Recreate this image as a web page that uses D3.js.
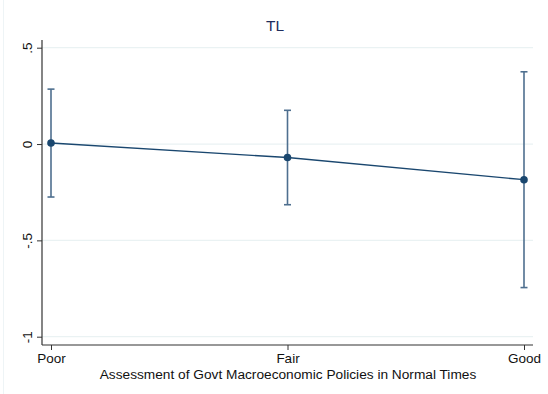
<!DOCTYPE html>
<html>
<head>
<meta charset="utf-8">
<script src="https://cdn.jsdelivr.net/npm/d3@7"></script>
<style>
  body { margin: 0; background: #fff; }
  text { font-family: "Liberation Sans", Arial, sans-serif; }
</style>
</head>
<body>
<div id="chart"></div>
<script>
// chart values
var categories = ["Poor", "Fair", "Good"];
var estimates = [0.005, -0.07, -0.185];
var ciLow = [-0.275, -0.315, -0.745];
var ciHigh = [0.285, 0.175, 0.375];
var yTicks = [-1, -0.5, 0, 0.5];
var yTickLabels = ["-1", "-.5", "0", ".5"];

var W = 548, H = 394;
var svg = d3.select("#chart").append("svg")
    .attr("width", W)
    .attr("height", H);

svg.append("rect").attr("width", W).attr("height", H).attr("fill", "#fff");
// faint outer border on the left
svg.append("line")
    .attr("x1", 3.5).attr("x2", 3.5).attr("y1", 0).attr("y2", H)
    .attr("stroke", "#eef4f6").attr("stroke-width", 1);

var xScale = d3.scalePoint().domain(categories).range([51, 524]);
var yScale = d3.scaleLinear().domain([-1, 0.5]).range([336.7, 47.7]);

var plotLeft = 42, plotRight = 533, plotBottom = 345, plotTop = 40;

// gridlines
svg.append("g").selectAll("line")
    .data(yTicks)
    .enter().append("line")
    .attr("x1", plotLeft).attr("x2", plotRight)
    .attr("y1", function (d) { return yScale(d); })
    .attr("y2", function (d) { return yScale(d); })
    .attr("stroke", "#eaf2f3").attr("stroke-width", 1.2);

// y axis
var yAxis = d3.axisLeft(yScale)
    .tickValues(yTicks)
    .tickSize(5)
    .tickFormat(function (d, i) { return yTickLabels[i]; });
var gy = svg.append("g")
    .attr("transform", "translate(" + plotLeft + ",0)")
    .call(yAxis);
gy.select(".domain").remove();
gy.append("line")
    .attr("x1", 0).attr("x2", 0).attr("y1", plotTop).attr("y2", plotBottom)
    .attr("stroke", "#333").attr("stroke-width", 1.2);
gy.selectAll(".tick line").attr("stroke", "#333");
gy.selectAll(".tick text")
    .attr("transform", "rotate(-90)")
    .attr("x", 0).attr("y", -10).attr("dy", 0)
    .attr("text-anchor", "middle")
    .attr("font-size", 13.5).attr("fill", "#111");

// x axis
var xAxis = d3.axisBottom(xScale).tickSize(5);
var gx = svg.append("g")
    .attr("transform", "translate(0," + plotBottom + ")")
    .call(xAxis);
gx.select(".domain").remove();
gx.append("line")
    .attr("x1", plotLeft).attr("x2", plotRight).attr("y1", 0).attr("y2", 0)
    .attr("stroke", "#333").attr("stroke-width", 1.2);
gx.selectAll(".tick line").attr("stroke", "#333");
gx.selectAll(".tick text")
    .attr("y", 18).attr("dy", 0)
    .attr("font-size", 13.5).attr("fill", "#111");

// error bars
var bars = svg.append("g").selectAll("g")
    .data(categories)
    .enter().append("g")
    .attr("stroke", "#4e6f8f").attr("stroke-width", 1.6);
bars.append("line")
    .attr("x1", function (d) { return xScale(d); })
    .attr("x2", function (d) { return xScale(d); })
    .attr("y1", function (d, i) { return yScale(ciLow[i]); })
    .attr("y2", function (d, i) { return yScale(ciHigh[i]); });
bars.append("line")
    .attr("x1", function (d) { return xScale(d) - 3.5; })
    .attr("x2", function (d) { return xScale(d) + 3.5; })
    .attr("y1", function (d, i) { return yScale(ciLow[i]); })
    .attr("y2", function (d, i) { return yScale(ciLow[i]); });
bars.append("line")
    .attr("x1", function (d) { return xScale(d) - 3.5; })
    .attr("x2", function (d) { return xScale(d) + 3.5; })
    .attr("y1", function (d, i) { return yScale(ciHigh[i]); })
    .attr("y2", function (d, i) { return yScale(ciHigh[i]); });

// connecting line
var line = d3.line()
    .x(function (d, i) { return xScale(categories[i]); })
    .y(function (d) { return yScale(d); });
svg.append("path")
    .datum(estimates)
    .attr("d", line)
    .attr("fill", "none")
    .attr("stroke", "#1a476f")
    .attr("stroke-width", 1.4);

svg.append("g").selectAll("circle")
    .data(estimates)
    .enter().append("circle")
    .attr("cx", function (d, i) { return xScale(categories[i]); })
    .attr("cy", function (d) { return yScale(d); })
    .attr("r", 3.8)
    .attr("fill", "#1a476f");

// titles
svg.append("text")
    .attr("x", 275).attr("y", 31)
    .attr("text-anchor", "middle")
    .attr("font-size", 15.5).attr("fill", "#1e2d5c")
    .text("TL");

svg.append("text")
    .attr("x", 288).attr("y", 379)
    .attr("text-anchor", "middle")
    .attr("font-size", 13.7).attr("fill", "#111")
    .text("Assessment of Govt Macroeconomic Policies in Normal Times");
</script>
</body>
</html>
